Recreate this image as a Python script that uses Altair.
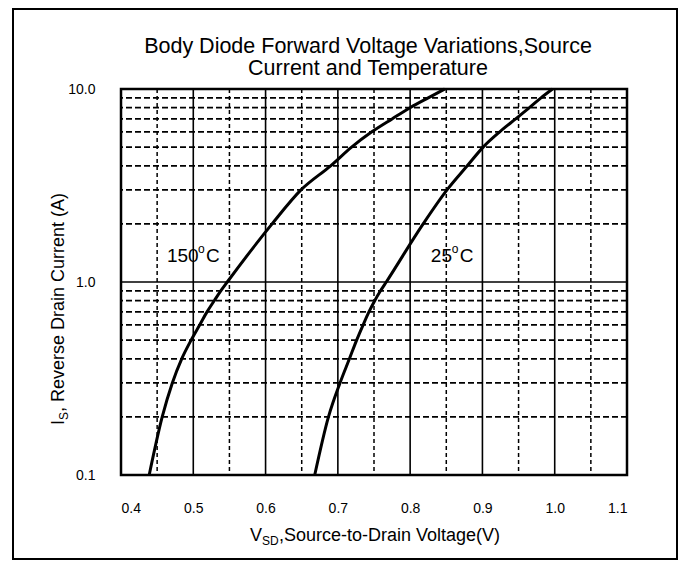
import altair as alt
import pandas as pd

FONT = "Liberation Sans"

# ---- data ----
current = [0.1, 0.2, 0.3, 0.4, 0.5, 0.6, 0.7, 0.8, 0.9, 1.0,
           2.0, 3.0, 4.0, 5.0, 6.0, 7.0, 8.0, 9.0, 10.0]
v_150 = [0.439, 0.457, 0.471, 0.484, 0.497, 0.509, 0.519, 0.529, 0.538, 0.547,
         0.609, 0.649, 0.690, 0.719, 0.747, 0.775, 0.800, 0.825, 0.848]
v_25 = [0.668, 0.687, 0.703, 0.716, 0.726, 0.735, 0.743, 0.751, 0.759, 0.767,
        0.818, 0.851, 0.879, 0.901, 0.924, 0.946, 0.965, 0.981, 0.997]

x_ticks = [0.4, 0.5, 0.6, 0.7, 0.8, 0.9, 1.0, 1.1]
y_ticks = [0.1, 1.0, 10.0]
x_grid_major = [0.5, 0.6, 0.7, 0.8, 0.9, 1.0]
x_grid_minor = [0.45, 0.55, 0.65, 0.75, 0.85, 0.95, 1.05]
y_grid_major = [1.0]
y_grid_minor = [0.2, 0.3, 0.4, 0.5, 0.6, 0.7, 0.8, 0.9,
                2, 3, 4, 5, 6, 7, 8, 9]

title_lines = ["Body Diode Forward Voltage Variations,Source",
               "Current and Temperature"]

# label anchors (voltage, current)
label_150 = {"V": 0.4636, "I": 1.27}
label_25 = {"V": 0.8286, "I": 1.27}

# ---- chart ----
xscale = alt.Scale(domain=[0.4, 1.1], nice=False, zero=False)
yscale = alt.Scale(type="log", domain=[0.1, 10], nice=False)
xaxis = alt.Axis(values=x_ticks, format=".1f", title=None, ticks=False,
                 domain=False, grid=False, labelPadding=26, labelFontSize=14,
                 labelFont=FONT, labelColor="black")
yaxis = alt.Axis(values=y_ticks, format=".1f", title=None, ticks=False,
                 domain=False, grid=False, labelPadding=26, labelFontSize=14,
                 labelFont=FONT, labelColor="black")


def X(field="V:Q"):
    return alt.X(field, scale=xscale, axis=xaxis)


def Y(field="I:Q"):
    return alt.Y(field, scale=yscale, axis=yaxis)


df_curves = pd.concat([
    pd.DataFrame({"V": v_150, "I": current, "T": "150"}),
    pd.DataFrame({"V": v_25, "I": current, "T": "25"}),
])

curves = alt.Chart(df_curves).mark_line(
    color="black", strokeWidth=3, interpolate="monotone"
).encode(x=X(), y=Y(), detail="T:N", order=alt.Order("I:Q"))

vminor = alt.Chart(pd.DataFrame({"V": x_grid_minor})).mark_rule(
    color="black", strokeWidth=1.5, strokeDash=[4, 3]
).encode(x=X())

vmajor = alt.Chart(pd.DataFrame({"V": x_grid_major})).mark_rule(
    color="black", strokeWidth=1.6
).encode(x=X())

hminor = alt.Chart(pd.DataFrame({"I": y_grid_minor})).mark_rule(
    color="black", strokeWidth=1.8, strokeDash=[6, 3]
).encode(y=Y())

hmajor = alt.Chart(pd.DataFrame({"I": y_grid_major})).mark_rule(
    color="black", strokeWidth=1.6
).encode(y=Y())


def piece(text, size, anchor, dx=0, dy=0):
    df = pd.DataFrame({"t": [text], "V": [anchor["V"]], "I": [anchor["I"]]})
    return alt.Chart(df).mark_text(
        font=FONT, fontSize=size, align="left", baseline="alphabetic",
        color="black", dx=dx, dy=dy
    ).encode(text="t:N", x=X(), y=Y())


lab150 = piece("150", 19, label_150) + piece("o", 12, label_150, dx=31, dy=-9) + \
    piece("C", 19, label_150, dx=39)
lab25 = piece("25", 19, label_25) + piece("o", 12, label_25, dx=21, dy=-9) + \
    piece("C", 19, label_25, dx=29)


def txt(text, x, y, size, angle=0, align="left"):
    return alt.Chart(pd.DataFrame({"t": [text]})).mark_text(
        font=FONT, fontSize=size, align=align, baseline="alphabetic",
        color="black", angle=angle
    ).encode(text="t:N", x=alt.value(x), y=alt.value(y))


title = txt(title_lines[0], 247, -36, 21.5, align="center") + \
    txt(title_lines[1], 247, -14, 21.5, align="center")
xtitle = txt("V", 129, 452, 18) + txt("SD", 141, 456, 12) + \
    txt(",Source-to-Drain Voltage(V)", 158, 452, 18)
ytitle = txt("I", -57, 336, 18, 270) + txt("S", -53, 331, 12, 270) + \
    txt(", Reverse Drain Current (A)", -57, 323, 18, 270)

frame = alt.Chart(pd.DataFrame({"a": [0]})).mark_rect(
    fillOpacity=0, stroke="black", strokeWidth=2
).encode(x=alt.value(-108), x2=alt.value(556), y=alt.value(-80), y2=alt.value(470))

chart = alt.layer(
    frame, hminor, vminor, hmajor, vmajor, curves, lab150, lab25,
    title, xtitle, ytitle
).properties(
    width=506,
    height=386,
    background="white",
    autosize=alt.AutoSizeParams(type="none"),
    padding={"left": 113, "top": 81, "right": 51, "bottom": 85},
).configure_view(
    stroke="black", strokeWidth=2.5
)

chart.save("out.html", embed_options={"renderer": "svg", "actions": False})
